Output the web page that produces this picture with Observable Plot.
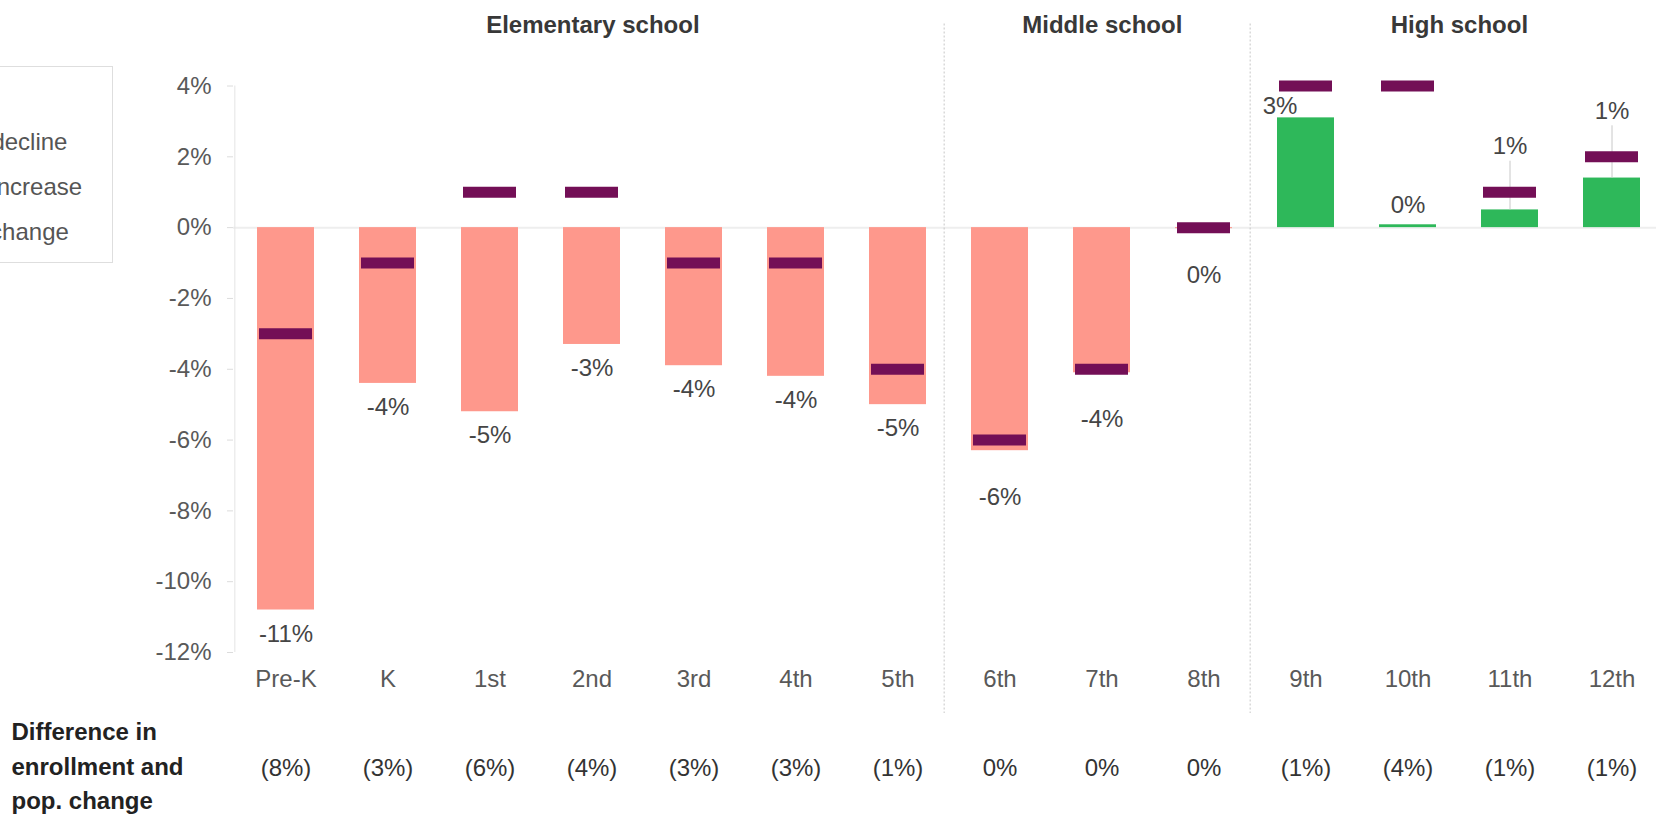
<!DOCTYPE html>
<html>
<head>
<meta charset="utf-8">
<script src="https://cdn.jsdelivr.net/npm/d3@7"></script>
<script src="https://cdn.jsdelivr.net/npm/@observablehq/plot@0.6"></script>
<style>
  html, body { margin: 0; padding: 0; background: #fff; overflow: hidden; }
  #wrap { position: relative; width: 1656px; height: 815px; overflow: hidden; }
  #chart { position: absolute; left: 0; top: 0; }
  #legend {
    position: absolute; left: -200px; top: 66px; width: 313px; height: 197px;
    box-sizing: border-box; border: 1px solid #dedede; background: #fff;
    font-family: "Liberation Sans", Arial, sans-serif; font-size: 24px; color: #555;
  }
  #legend .item { position: absolute; left: 0; height: 28px; line-height: 28px; white-space: nowrap; }
  #legend .sw { position: absolute; left: 35px; top: 4px; width: 24px; height: 20px; }
  #legend .lbl { position: absolute; left: 69px; top: 0; }
</style>
</head>
<body>
<div id="wrap">
  <div id="chart"></div>
  <div id="legend"></div>
</div>
<script>
// ---- data ----
const grades = ["Pre-K", "K", "1st", "2nd", "3rd", "4th", "5th", "6th", "7th", "8th", "9th", "10th", "11th", "12th"];
const schoolLevel = ["Elementary school", "Elementary school", "Elementary school", "Elementary school",
  "Elementary school", "Elementary school", "Elementary school",
  "Middle school", "Middle school", "Middle school",
  "High school", "High school", "High school", "High school"];
const enrollmentChange = [-10.8, -4.4, -5.2, -3.3, -3.9, -4.2, -5.0, -6.3, -4.1, -0.03, 3.1, 0.08, 0.5, 1.4];
const populationChange = [-3, -1, 1, 1, -1, -1, -4, -6, -4, 0, 4, 4, 1, 2];
const enrollmentLabels = [-11, -4, -5, -3, -4, -4, -5, -6, -4, 0, 3, 0, 1, 1];
const gapValues = [-8, -3, -6, -4, -3, -3, -1, 0, 0, 0, -1, -4, -1, -1];
const yTicks = [4, 2, 0, -2, -4, -6, -8, -10, -12];
const levels = ["Elementary school", "Middle school", "High school"];
const legendLabels = ["Enrollment decline", "Enrollment increase", "Population change"];
const rowTitle = "Difference in\nenrollment and\npop. change";

// ---- styles ----
const DECLINE = "#fe988c";
const INCREASE = "#2eb85a";
const POP = "#730f56";
const FONT = "'Liberation Sans', Arial, Helvetica, sans-serif";

const data = grades.map((g, i) => ({
  grade: g, level: schoolLevel[i], enroll: enrollmentChange[i], pop: populationChange[i],
  label: enrollmentLabels[i], gap: gapValues[i]
}));

const pct = v => `${v}%`;
const gapFmt = v => v < 0 ? `(${-v}%)` : `${v}%`;

const xRange = [233, 1665];
const padIn = 0.44, padOut = 0.22;
const step = (xRange[1] - xRange[0]) / (grades.length - padIn + 2 * padOut);

const headerMarks = levels.map(lv => {
  const members = grades.filter((g, i) => schoolLevel[i] === lv);
  return Plot.text([lv], {
    x: () => members[0], text: d => d, frameAnchor: "top",
    dx: (members.length - 1) / 2 * step, dy: -70.5,
    fontSize: 24, fontWeight: "bold", fill: "#383838"
  });
});
const boundaries = levels.slice(0, -1).map(lv => grades.filter((g, i) => schoolLevel[i] === lv).slice(-1)[0]);

const chart = Plot.plot({
  width: 1656,
  height: 815,
  marginTop: 85.5,
  marginBottom: 163,
  marginLeft: 233,
  marginRight: 0,
  style: { fontFamily: FONT, fontSize: "24px", background: "#fff", overflow: "visible" },
  x: { type: "band", domain: grades, range: xRange, paddingInner: padIn, paddingOuter: padOut, label: null },
  y: { domain: [-12, 4], range: [652, 85.5], label: null },
  color: { type: "identity" },
  marks: [
    Plot.ruleY([0], { stroke: "#eeeeee", strokeWidth: 2 }),
    Plot.ruleX([grades[0]], { y1: -12, y2: 4, dx: -step / 2, stroke: "#e4e4e4" }),
    Plot.ruleX(boundaries, { dx: step / 2 - 5, insetTop: -62, insetBottom: -61, stroke: "#c6c6c6", strokeDasharray: "2,2" }),
    Plot.axisY({ ticks: yTicks, tickFormat: pct, tickSize: 6, tickPadding: 16, stroke: "#dcdcdc", fill: "#595959", fontSize: 24, label: null }),
    Plot.axisX({ tickSize: 0, tickPadding: 17, fill: "#595959", fontSize: 24, label: null }),
    Plot.barY(data, { x: "grade", y: "enroll", fill: d => d.enroll < 0 ? DECLINE : INCREASE }),
    Plot.ruleX(data.filter(d => d.grade === "11th" || d.grade === "12th"), {
      x: "grade", y1: "pop", y2: "enroll", insetTop: -31, stroke: "#c8c8c8"
    }),
    Plot.tickY(data, { x: "grade", y: "pop", stroke: POP, strokeWidth: 11, insetLeft: 2, insetRight: 2 }),
    // value labels
    Plot.text(data.filter(d => d.level === "Elementary school"), {
      x: "grade", y: "enroll", text: d => pct(d.label), dy: 24, fill: "#454545", fontSize: 24
    }),
    Plot.text(data.filter(d => d.level === "Middle school"), {
      x: "grade", y: "enroll", text: d => pct(d.label), dy: 47, fill: "#454545", fontSize: 24
    }),
    Plot.text(data.filter(d => d.grade === "9th"), {
      x: "grade", y: "enroll", text: d => pct(d.label), dy: -12, dx: -26, fill: "#454545", fontSize: 24
    }),
    Plot.text(data.filter(d => d.grade === "10th"), {
      x: "grade", y: "enroll", text: d => pct(d.label), dy: -19, fill: "#454545", fontSize: 24
    }),
    Plot.text(data.filter(d => d.grade === "11th" || d.grade === "12th"), {
      x: "grade", y: "pop", text: d => pct(d.label), dy: -46, fill: "#454545", fontSize: 24
    }),
    ...headerMarks,
    // bottom table row
    Plot.text(data, { x: "grade", text: d => gapFmt(d.gap), frameAnchor: "bottom", dy: 123, fill: "#333", fontSize: 24 }),
    Plot.text([rowTitle], {
      text: d => d, frameAnchor: "bottom-left", dx: -222, dy: 111, textAnchor: "start", lineAnchor: "middle",
      lineHeight: 1.45, fontSize: 24, fontWeight: "bold", fill: "#222"
    })
  ]
});
document.getElementById("chart").appendChild(chart);

// legend (partly outside the page on the left, as in the reference)
const legendColors = [DECLINE, INCREASE, POP];
const legend = document.getElementById("legend");
legendLabels.forEach((lab, i) => {
  const item = document.createElement("div");
  item.className = "item";
  item.style.top = (61 + i * 45) + "px";
  const sw = document.createElement("span");
  sw.className = "sw";
  sw.style.background = legendColors[i];
  if (i === 2) { sw.style.height = "10px"; sw.style.top = "9px"; }
  const tx = document.createElement("span");
  tx.className = "lbl";
  tx.textContent = lab;
  item.appendChild(sw);
  item.appendChild(tx);
  legend.appendChild(item);
});
</script>
</body>
</html>
